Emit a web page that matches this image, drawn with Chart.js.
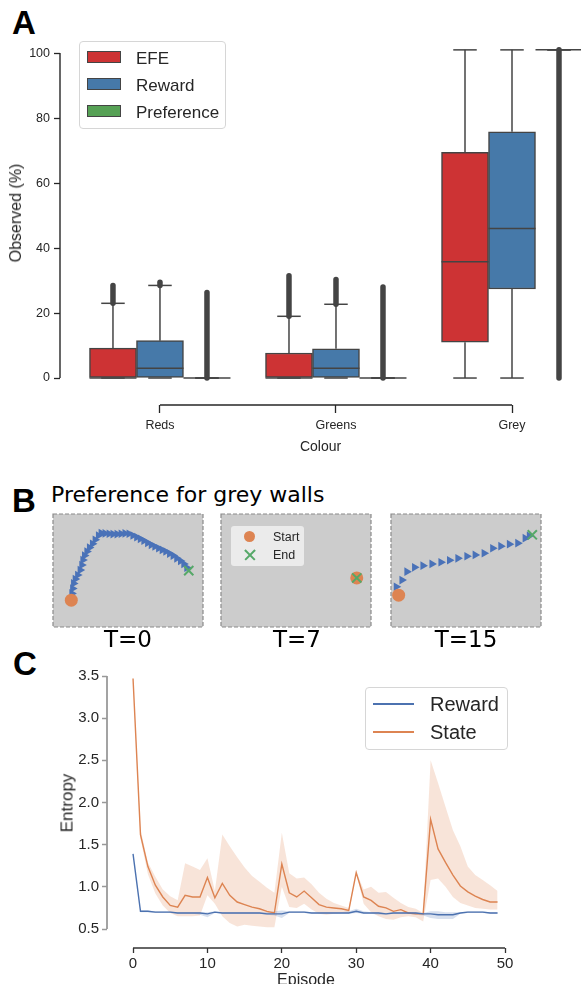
<!DOCTYPE html>
<html>
<head>
<meta charset="utf-8">
<script src="https://cdn.jsdelivr.net/npm/chart.js@4.4.1/dist/chart.umd.min.js"></script>
<style>
  html, body { margin: 0; padding: 0; background: #fff; }
  body { width: 581px; height: 984px; overflow: hidden; position: relative; }
  canvas { position: absolute; }
  .abs { position: absolute; white-space: nowrap; }
  .letter { font: bold 33px "Liberation Sans", Arial, sans-serif; line-height: 1; color: #000; }
  .dv { font-family: "DejaVu Sans", sans-serif; color: #000; line-height: 1; }
  .ytitle { font-family: "Liberation Sans", Arial, sans-serif; color: #262626; line-height: 1; transform: translate(-50%, -50%) rotate(-90deg); }
  .legend { position: absolute; border: 1px solid #d6d6d6; border-radius: 4px; background: rgba(255,255,255,0.85); box-sizing: border-box; }
  .legend .lab { position: absolute; font-family: "Liberation Sans", Arial, sans-serif; color: #262626; line-height: 1; transform: translateY(-50%); }
  .legend .sw { position: absolute; width: 34px; height: 12px; border: 1.5px solid #444; box-sizing: border-box; }
  .legend .ln { position: absolute; width: 41px; height: 1.5px; }
  .dot { position: absolute; width: 11px; height: 11px; border-radius: 50%; background: #dd8452; }
  .cross { position: absolute; width: 12px; height: 12px; }
  .cross::before, .cross::after { content: ""; position: absolute; left: -1px; top: 5px; width: 14px; height: 1.6px; background: #55a868; }
  .cross::before { transform: rotate(45deg); }
  .cross::after { transform: rotate(-45deg); }
</style>
</head>
<body>
<div class="abs letter" style="left:12px;top:6px">A</div>
<div class="abs letter" style="left:12px;top:484px">B</div>
<div class="abs letter" style="left:13px;top:647px">C</div>

<canvas id="boxChart" width="581" height="460" style="left:0;top:0"></canvas>
<div class="abs ytitle" style="left:16px;top:213px;font-size:16px">Observed (%)</div>
<div class="legend" style="left:79px;top:41px;width:147px;height:88px">
  <span class="sw" style="left:7px;top:9px;background:#cd3334"></span><span class="lab" style="left:56px;top:16px;font-size:17px">EFE</span>
  <span class="sw" style="left:7px;top:36px;background:#4679a9"></span><span class="lab" style="left:56px;top:43px;font-size:17px">Reward</span>
  <span class="sw" style="left:7px;top:63px;background:#56a155"></span><span class="lab" style="left:56px;top:70px;font-size:17px">Preference</span>
</div>

<div class="abs dv" style="left:51px;top:484px;font-size:22px">Preference for grey walls</div>
<canvas id="mazeT0" width="154" height="117" style="left:51px;top:512px"></canvas>
<canvas id="mazeT7" width="154" height="117" style="left:219px;top:512px"></canvas>
<canvas id="mazeT15" width="154" height="117" style="left:389px;top:512px"></canvas>
<div class="legend" style="left:231px;top:526px;width:73px;height:40px;border:none;border-radius:3px;background:rgba(255,255,255,0.6)">
  <span class="dot" style="left:13px;top:5px"></span><span class="lab" style="left:42px;top:11px;font-size:12.5px">Start</span>
  <span class="cross" style="left:13px;top:23px"></span><span class="lab" style="left:42px;top:29px;font-size:12.5px">End</span>
</div>
<div class="abs dv" style="left:128px;top:628px;font-size:23px;transform:translateX(-50%)">T=0</div>
<div class="abs dv" style="left:297px;top:628px;font-size:23px;transform:translateX(-50%)">T=7</div>
<div class="abs dv" style="left:466px;top:628px;font-size:23px;transform:translateX(-50%)">T=15</div>

<canvas id="entropyChart" width="581" height="350" style="left:0;top:650px"></canvas>
<div class="abs ytitle" style="left:67px;top:803px;font-size:17px">Entropy</div>
<div class="legend" style="left:365px;top:687px;width:143px;height:63px">
  <span class="ln" style="left:7px;top:15px;background:#4c72b0"></span><span class="lab" style="left:64px;top:16px;font-size:20px">Reward</span>
  <span class="ln" style="left:7px;top:43px;background:#dd8452"></span><span class="lab" style="left:64px;top:44px;font-size:20px">State</span>
</div>

<script>
Chart.defaults.font.family = "'Liberation Sans', Arial, sans-serif";
Chart.defaults.color = "#262626";
Chart.defaults.animation = false;

// ---------- panel A: observed wall colour per agent ----------
const colours = ["Reds", "Greens", "Grey"];

const efeQ1 = [0, 0, 11.0];
const efeMedian = [0, 0, 35.8];
const efeQ3 = [9.2, 7.7, 69.5];
const efeLow = [0, 0, 0];
const efeHigh = [23.0, 19.0, 101];
const efeFliers = [[23.0, 28.5], [19.0, 31.5], null];

const rewardQ1 = [0, 0, 27.4];
const rewardMedian = [3.0, 3.0, 46.0];
const rewardQ3 = [11.5, 9.0, 75.8];
const rewardLow = [0, 0, 0];
const rewardHigh = [28.5, 22.7, 101];
const rewardFliers = [[28.5, 29.5], [22.7, 30.3], null];

const prefQ1 = [0, 0, 101];
const prefMedian = [0, 0, 101];
const prefQ3 = [0, 0, 101];
const prefLow = [0, 0, 101];
const prefHigh = [0, 0, 101];
const prefFliers = [[0, 26.3], [0, 28.0], [0, 101]];

// ---------- panel B: agent paths (fraction of arena) ----------
const t0PathX = [0.126, 0.131, 0.137, 0.148, 0.164, 0.181, 0.192, 0.199, 0.210, 0.226, 0.243, 0.263, 0.281, 0.303, 0.321, 0.347, 0.374, 0.400, 0.427, 0.454, 0.480, 0.507, 0.533, 0.558, 0.582, 0.606, 0.631, 0.655, 0.679, 0.704, 0.728, 0.752, 0.777, 0.801, 0.825, 0.850, 0.872, 0.892];
const t0PathY = [0.297, 0.341, 0.386, 0.424, 0.460, 0.504, 0.549, 0.593, 0.632, 0.668, 0.703, 0.736, 0.772, 0.810, 0.831, 0.828, 0.825, 0.822, 0.822, 0.825, 0.828, 0.825, 0.810, 0.795, 0.780, 0.763, 0.745, 0.727, 0.712, 0.697, 0.682, 0.668, 0.650, 0.632, 0.608, 0.585, 0.558, 0.525];
const t0Start = [0.122, 0.237];
const t0End = [0.905, 0.499];

const t7PathX = [];
const t7PathY = [];
const t7Start = [0.905, 0.434];
const t7End = [0.905, 0.434];

const t15PathX = [0.035, 0.073, 0.106, 0.157, 0.213, 0.273, 0.333, 0.390, 0.446, 0.506, 0.561, 0.621, 0.678, 0.732, 0.789, 0.845, 0.894, 0.922];
const t15PathY = [0.356, 0.415, 0.490, 0.528, 0.543, 0.558, 0.573, 0.591, 0.608, 0.626, 0.638, 0.653, 0.697, 0.715, 0.733, 0.742, 0.786, 0.807];
const t15Start = [0.051, 0.282];
const t15End = [0.942, 0.816];

// ---------- panel C: entropy per episode ----------
const episodes = [0, 1, 2, 3, 4, 5, 6, 7, 8, 9, 10, 11, 12, 13, 14, 15, 16, 17, 18, 19, 20, 21, 22, 23, 24, 25, 26, 27, 28, 29, 30, 31, 32, 33, 34, 35, 36, 37, 38, 39, 40, 41, 42, 43, 44, 45, 46, 47, 48, 49];
const rewardMean = [1.39, 0.71, 0.71, 0.70, 0.70, 0.70, 0.69, 0.69, 0.69, 0.69, 0.68, 0.70, 0.69, 0.69, 0.69, 0.69, 0.69, 0.69, 0.68, 0.68, 0.68, 0.70, 0.70, 0.70, 0.69, 0.69, 0.69, 0.69, 0.69, 0.69, 0.71, 0.69, 0.69, 0.69, 0.68, 0.69, 0.69, 0.69, 0.69, 0.68, 0.68, 0.67, 0.67, 0.67, 0.69, 0.70, 0.70, 0.70, 0.69, 0.69];
const rewardUpper = [1.39, 0.72, 0.72, 0.71, 0.71, 0.71, 0.70, 0.70, 0.70, 0.70, 0.70, 0.71, 0.70, 0.70, 0.70, 0.70, 0.70, 0.70, 0.70, 0.71, 0.72, 0.71, 0.71, 0.71, 0.70, 0.70, 0.70, 0.70, 0.70, 0.71, 0.74, 0.71, 0.70, 0.70, 0.69, 0.70, 0.70, 0.70, 0.70, 0.69, 0.71, 0.71, 0.70, 0.70, 0.70, 0.71, 0.71, 0.71, 0.70, 0.70];
const rewardLower = [1.39, 0.70, 0.70, 0.69, 0.69, 0.69, 0.68, 0.68, 0.68, 0.67, 0.64, 0.69, 0.68, 0.68, 0.68, 0.68, 0.68, 0.68, 0.67, 0.66, 0.63, 0.69, 0.69, 0.69, 0.68, 0.68, 0.68, 0.68, 0.68, 0.68, 0.69, 0.68, 0.68, 0.67, 0.67, 0.68, 0.68, 0.68, 0.67, 0.66, 0.63, 0.62, 0.62, 0.62, 0.68, 0.69, 0.69, 0.69, 0.68, 0.68];
const stateMean = [3.47, 1.62, 1.24, 1.02, 0.88, 0.78, 0.76, 0.90, 0.88, 0.88, 1.11, 0.87, 1.04, 0.90, 0.82, 0.79, 0.76, 0.74, 0.71, 0.69, 1.27, 0.93, 0.88, 0.95, 0.87, 0.79, 0.76, 0.75, 0.74, 0.72, 1.17, 0.88, 0.84, 0.77, 0.75, 0.71, 0.73, 0.69, 0.68, 0.68, 1.80, 1.45, 1.29, 1.14, 1.01, 0.94, 0.89, 0.85, 0.82, 0.82];
const stateUpper = [3.47, 1.68, 1.29, 1.12, 0.97, 0.89, 0.84, 1.28, 1.24, 1.20, 1.34, 0.95, 1.62, 1.48, 1.35, 1.23, 1.13, 1.06, 0.99, 0.93, 1.64, 1.16, 1.10, 1.11, 1.03, 0.93, 0.86, 0.81, 0.78, 0.75, 1.18, 0.97, 1.00, 0.93, 0.94, 0.87, 0.81, 0.76, 0.74, 0.69, 2.50, 2.23, 1.95, 1.67, 1.48, 1.24, 1.14, 1.08, 1.02, 0.95];
const stateLower = [3.47, 1.57, 1.15, 0.92, 0.78, 0.69, 0.65, 0.65, 0.65, 0.66, 0.90, 0.80, 0.65, 0.57, 0.53, 0.55, 0.54, 0.53, 0.52, 0.52, 1.00, 0.76, 0.75, 0.80, 0.73, 0.68, 0.67, 0.68, 0.69, 0.69, 1.16, 0.80, 0.70, 0.65, 0.62, 0.61, 0.64, 0.65, 0.64, 0.59, 1.08, 1.10, 1.00, 0.88, 0.81, 0.78, 0.75, 0.74, 0.73, 0.73];

// spines trimmed to the data range, like seaborn's despine(trim=True)
const trimmedSpines = {
  id: "trimmedSpines",
  afterDraw(chart, args, opts) {
    const { ctx, chartArea, scales } = chart;
    const x = scales.x, y = scales.y;
    ctx.save();
    ctx.strokeStyle = opts.yColor;
    ctx.lineWidth = opts.yWidth;
    ctx.beginPath();
    ctx.moveTo(chartArea.left, y.getPixelForValue(opts.yFrom));
    ctx.lineTo(chartArea.left, y.getPixelForValue(opts.yTo));
    ctx.stroke();
    ctx.strokeStyle = opts.xColor;
    ctx.lineWidth = opts.xWidth;
    ctx.beginPath();
    ctx.moveTo(x.getPixelForValue(opts.xFrom), chartArea.bottom);
    ctx.lineTo(x.getPixelForValue(opts.xTo), chartArea.bottom);
    ctx.stroke();
    ctx.restore();
  }
};

// whiskers, caps, medians and flier columns on top of the floating bars
const boxStats = [
  { median: efeMedian, low: efeLow, high: efeHigh, fliers: efeFliers },
  { median: rewardMedian, low: rewardLow, high: rewardHigh, fliers: rewardFliers },
  { median: prefMedian, low: prefLow, high: prefHigh, fliers: prefFliers }
];
const boxWhiskers = {
  id: "boxWhiskers",
  afterDatasetsDraw(chart) {
    const ctx = chart.ctx;
    const y = chart.scales.y;
    const seg = (x1, y1, x2, y2) => {
      ctx.beginPath();
      ctx.moveTo(x1, y1);
      ctx.lineTo(x2, y2);
      ctx.stroke();
    };
    ctx.save();
    ctx.strokeStyle = "#444";
    chart.data.datasets.forEach((ds, d) => {
      const st = boxStats[d];
      chart.getDatasetMeta(d).data.forEach((bar, i) => {
        const [q1, q3] = ds.data[i].y;
        const half = bar.width / 2;
        const cx = bar.x;
        ctx.lineWidth = 1.5;
        ctx.lineCap = "butt";
        seg(cx, y.getPixelForValue(q3), cx, y.getPixelForValue(st.high[i]));
        seg(cx, y.getPixelForValue(q1), cx, y.getPixelForValue(st.low[i]));
        seg(cx - half / 2, y.getPixelForValue(st.high[i]), cx + half / 2, y.getPixelForValue(st.high[i]));
        seg(cx - half / 2, y.getPixelForValue(st.low[i]), cx + half / 2, y.getPixelForValue(st.low[i]));
        seg(cx - half, y.getPixelForValue(st.median[i]), cx + half, y.getPixelForValue(st.median[i]));
        const f = st.fliers[i];
        if (f) {
          ctx.lineWidth = 5.5;
          ctx.lineCap = "round";
          seg(cx, y.getPixelForValue(f[0]), cx, y.getPixelForValue(f[1]));
        }
      });
    });
    ctx.restore();
  }
};

const boxDataset = (label, colour, q1, q3) => ({
  label: label,
  backgroundColor: colour,
  borderColor: "#444",
  borderWidth: 1.5,
  borderSkipped: false,
  barThickness: 47,
  data: q1.map((v, i) => ({ x: i, y: [v, q3[i]] }))
});

new Chart(document.getElementById("boxChart"), {
  type: "bar",
  data: {
    datasets: [
      boxDataset("EFE", "#cd3334", efeQ1, efeQ3),
      boxDataset("Reward", "#4679a9", rewardQ1, rewardQ3),
      boxDataset("Preference", "#56a155", prefQ1, prefQ3)
    ]
  },
  options: {
    responsive: false,
    layout: { padding: { top: 45, right: 0, left: 0, bottom: 0 } },
    plugins: {
      legend: { display: false },
      tooltip: { enabled: false },
      trimmedSpines: { yFrom: 0, yTo: 100, xFrom: 0, xTo: 2, yColor: "#262626", yWidth: 1.4, xColor: "#262626", xWidth: 1.4 }
    },
    scales: {
      x: {
        type: "linear",
        offset: false,
        min: -0.568,
        max: 2.392,
        afterBuildTicks: (s) => { s.ticks = colours.map((c, i) => ({ value: i })); },
        afterFit: (s) => { s.height = 55; },
        ticks: { callback: (v) => colours[v], font: { size: 12.5 }, padding: 5, autoSkip: false, maxRotation: 0 },
        grid: { offset: false, drawOnChartArea: false, tickLength: 8, tickColor: "#262626", tickWidth: 1.3 },
        border: { display: false },
        title: { display: true, text: "Colour", font: { size: 14 }, padding: { top: 0, bottom: 4 } }
      },
      y: {
        min: -8.3,
        max: 102.5,
        afterBuildTicks: (s) => { s.ticks = s.ticks.filter((t) => t.value >= 0 && t.value <= 100); },
        afterFit: (s) => { s.width = 60; },
        ticks: { stepSize: 20, includeBounds: false, font: { size: 12.5 }, padding: 4 },
        grid: { drawOnChartArea: false, tickLength: 6, tickColor: "#262626", tickWidth: 1.3 },
        border: { display: false }
      }
    }
  },
  plugins: [boxWhiskers, trimmedSpines]
});

// ---------- panel B ----------
const arenaBackground = {
  id: "arenaBackground",
  beforeDatasetsDraw(chart) {
    const { ctx, chartArea: a } = chart;
    ctx.save();
    ctx.fillStyle = "#cccccc";
    ctx.fillRect(a.left, a.top, a.width, a.height);
    ctx.strokeStyle = "#8a8a8a";
    ctx.lineWidth = 1.2;
    ctx.setLineDash([4, 2]);
    ctx.strokeRect(a.left, a.top, a.width, a.height);
    ctx.restore();
  }
};

const toPoints = (xs, ys) => xs.map((v, i) => ({ x: v, y: ys[i] }));

function drawArena(id, pathX, pathY, start, end) {
  new Chart(document.getElementById(id), {
    type: "scatter",
    data: {
      datasets: [
        { label: "End", data: [{ x: end[0], y: end[1] }], pointStyle: "crossRot", pointRadius: 6.5, pointBorderColor: "#55a868", pointBorderWidth: 2 },
        { label: "Start", data: [{ x: start[0], y: start[1] }], pointStyle: "circle", pointRadius: 6.5, pointBackgroundColor: "#dd8452", pointBorderColor: "#dd8452", pointBorderWidth: 0 },
        { label: "Path", data: toPoints(pathX, pathY), pointStyle: "triangle", pointRotation: 90, pointRadius: 5, pointBackgroundColor: "#4a72b8", pointBorderColor: "#4a72b8", pointBorderWidth: 0 }
      ]
    },
    options: {
      responsive: false,
      layout: { padding: 2, autoPadding: false },
      plugins: { legend: { display: false }, tooltip: { enabled: false } },
      scales: {
        x: { display: false, min: 0, max: 1 },
        y: { display: false, min: 0, max: 1 }
      }
    },
    plugins: [arenaBackground]
  });
}
drawArena("mazeT0", t0PathX, t0PathY, t0Start, t0End);
drawArena("mazeT7", t7PathX, t7PathY, t7Start, t7End);
drawArena("mazeT15", t15PathX, t15PathY, t15Start, t15End);

// ---------- panel C ----------
const series = (ys) => ys.map((v, i) => ({ x: episodes[i], y: v }));
const bandStyle = (colour) => ({ borderWidth: 0, pointRadius: 0, backgroundColor: colour, order: 2 });

new Chart(document.getElementById("entropyChart"), {
  type: "line",
  data: {
    datasets: [
      { label: "Reward", data: series(rewardMean), borderColor: "#4c72b0", borderWidth: 1.4, pointRadius: 0, fill: false, order: 0 },
      { label: "State", data: series(stateMean), borderColor: "#dd8452", borderWidth: 1.4, pointRadius: 0, fill: false, order: 0 },
      Object.assign({ label: "reward hi", data: series(rewardUpper), fill: "+1" }, bandStyle("rgba(76,114,176,0.22)")),
      Object.assign({ label: "reward lo", data: series(rewardLower), fill: false }, bandStyle("rgba(76,114,176,0.22)")),
      Object.assign({ label: "state hi", data: series(stateUpper), fill: "+1" }, bandStyle("rgba(221,132,82,0.22)")),
      Object.assign({ label: "state lo", data: series(stateLower), fill: false }, bandStyle("rgba(221,132,82,0.22)"))
    ]
  },
  options: {
    responsive: false,
    layout: { padding: { top: 26, right: 76, left: 0, bottom: 0 } },
    plugins: {
      legend: { display: false },
      tooltip: { enabled: false },
      trimmedSpines: { yFrom: 0.5, yTo: 3.5, xFrom: 0, xTo: 50, yColor: "#999", yWidth: 1.8, xColor: "#333", xWidth: 1.3 }
    },
    scales: {
      x: {
        type: "linear",
        min: -3.5,
        max: 50,
        afterBuildTicks: (s) => { s.ticks = s.ticks.filter((t) => t.value >= 0 && t.value <= 50); },
        afterFit: (s) => { s.height = 52; },
        ticks: { stepSize: 10, includeBounds: false, font: { size: 15 }, padding: 2, maxRotation: 0 },
        grid: { drawOnChartArea: false, tickLength: 5, tickColor: "#333", tickWidth: 1.3 },
        border: { display: false },
        title: { display: true, text: "Episode", font: { size: 16 }, padding: { top: 0, bottom: 10 } }
      },
      y: {
        min: 0.275,
        max: 3.5,
        afterBuildTicks: (s) => { s.ticks = s.ticks.filter((t) => t.value >= 0.5 && t.value <= 3.5); },
        afterFit: (s) => { s.width = 107; },
        ticks: { stepSize: 0.5, includeBounds: false, font: { size: 15 }, padding: 3, callback: (v) => v.toFixed(1) },
        grid: { drawOnChartArea: false, tickLength: 5, tickColor: "#999", tickWidth: 1.5 },
        border: { display: false }
      }
    }
  },
  plugins: [trimmedSpines]
});
</script>
</body>
</html>
